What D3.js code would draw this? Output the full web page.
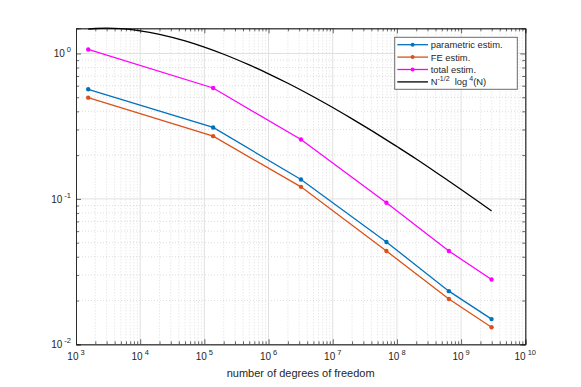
<!DOCTYPE html>
<html>
<head>
<meta charset="utf-8">
<script src="https://cdn.jsdelivr.net/npm/d3@7"></script>
<style>
  body { margin: 0; background: #fff; }
  svg { font-family: "Liberation Sans", Arial, sans-serif; }
</style>
</head>
<body>
<div id="chart"></div>
<script>
// degrees of freedom (x) for the refinement levels
const dofs = [1.55e3, 1.37e5, 3.2e6, 6.86e7, 6.45e8, 2.98e9];
const parametric = [0.567, 0.31, 0.136, 0.0505, 0.0232, 0.0149];
const feEstim = [0.497, 0.27, 0.121, 0.0438, 0.0205, 0.0131];
const totalEstim = [1.066, 0.579, 0.256, 0.094, 0.0438, 0.0279];

// reference curve
const refN = [1.55e3, 2e3, 3e3, 5e3, 1e4, 2e4, 5e4, 1e5, 2e5, 5e5, 1e6, 2e6, 5e6,
  1e7, 2e7, 5e7, 1e8, 2e8, 5e8, 1e9, 2e9, 2.98e9];
const refVal = [1.472, 1.485, 1.493, 1.481, 1.432, 1.354, 1.220, 1.106, 0.988, 0.834,
  0.725, 0.624, 0.504, 0.425, 0.355, 0.278, 0.229, 0.188, 0.143, 0.116, 0.0936, 0.0826];

const xTickExp = [3, 4, 5, 6, 7, 8, 9, 10];
const yTickExp = [-2, -1, 0];

const width = 581;
const height = 387;
const margin = { top: 28.3, right: 55.7, bottom: 42.7, left: 76 };

const svg = d3.select('#chart').append('svg')
  .attr('width', width)
  .attr('height', height);

const x = d3.scaleLog()
  .domain([1e3, 1e10])
  .range([margin.left, width - margin.right]);
const y = d3.scaleLog()
  .domain([0.01, 1.49])
  .range([height - margin.bottom, margin.top]);

const x0 = margin.left, x1 = width - margin.right;
const y0 = height - margin.bottom, y1 = margin.top;

// minor tick values
const xMinor = [];
for (let e = 3; e < 10; e++) for (let m = 2; m <= 9; m++) xMinor.push(m * Math.pow(10, e));
const yMinor = [];
for (let e = -2; e <= 0; e++) for (let m = 2; m <= 9; m++) {
  const v = m * Math.pow(10, e);
  if (v <= 1.49) yMinor.push(v);
}

// grid
const grid = svg.append('g');
grid.selectAll('.xminor').data(xMinor).enter().append('line')
  .attr('x1', d => x(d)).attr('x2', d => x(d)).attr('y1', y0).attr('y2', y1)
  .attr('stroke', '#c8c8c8').attr('stroke-width', 0.6).attr('stroke-dasharray', '1,2');
grid.selectAll('.yminor').data(yMinor).enter().append('line')
  .attr('y1', d => y(d)).attr('y2', d => y(d)).attr('x1', x0).attr('x2', x1)
  .attr('stroke', '#c8c8c8').attr('stroke-width', 0.6).attr('stroke-dasharray', '1,2');
grid.selectAll('.xmajor').data(xTickExp.slice(1, -1)).enter().append('line')
  .attr('x1', d => x(Math.pow(10, d))).attr('x2', d => x(Math.pow(10, d)))
  .attr('y1', y0).attr('y2', y1)
  .attr('stroke', '#e0e0e0').attr('stroke-width', 1);
grid.selectAll('.ymajor').data([-1, 0]).enter().append('line')
  .attr('y1', d => y(Math.pow(10, d))).attr('y2', d => y(Math.pow(10, d)))
  .attr('x1', x0).attr('x2', x1)
  .attr('stroke', '#e0e0e0').attr('stroke-width', 1);

// axes with inward ticks on all four sides
const axisColor = '#262626';
function tickSet(axisFn, scale, vals, size) {
  return axisFn(scale).tickValues(vals).tickSize(size).tickFormat('');
}
const axes = [
  [d3.axisBottom, x, `translate(0,${y0})`],
  [d3.axisTop, x, `translate(0,${y1})`],
  [d3.axisLeft, y, `translate(${x0},0)`],
  [d3.axisRight, y, `translate(${x1},0)`],
];
axes.forEach(([fn, sc, tr]) => {
  const isX = sc === x;
  const major = isX ? xTickExp.map(e => Math.pow(10, e)) : yTickExp.map(e => Math.pow(10, e));
  const minor = isX ? xMinor : yMinor;
  const gMin = svg.append('g').attr('transform', tr).call(tickSet(fn, sc, minor, -3));
  const gMaj = svg.append('g').attr('transform', tr).call(tickSet(fn, sc, major, -5));
  [gMin, gMaj].forEach(g => {
    g.selectAll('line').attr('stroke', axisColor).attr('stroke-width', 0.7);
    g.select('.domain').attr('stroke', axisColor).attr('stroke-width', 0.8);
  });
});

// tick labels with exponents
const lab = svg.append('g').attr('fill', axisColor).style('font-size', '10px');
xTickExp.forEach(e => {
  const t = lab.append('text')
    .attr('x', x(Math.pow(10, e)))
    .attr('y', y0 + 16)
    .attr('text-anchor', 'middle');
  t.append('tspan').text('10');
  t.append('tspan').attr('dy', -5).attr('dx', 2).style('font-size', '7.5px').text(e);
});
yTickExp.forEach(e => {
  const t = lab.append('text')
    .attr('x', x0 - 5)
    .attr('y', y(Math.pow(10, e)) + 4)
    .attr('text-anchor', 'end');
  t.append('tspan').text('10');
  t.append('tspan').attr('dy', -5).attr('dx', 2).style('font-size', '7.5px').text(e);
});

svg.append('text')
  .attr('x', (x0 + x1) / 2)
  .attr('y', 377)
  .attr('text-anchor', 'middle')
  .attr('fill', axisColor)
  .style('font-size', '11px')
  .text('number of degrees of freedom');

// series
const series = [
  { name: 'parametric estim.', vals: parametric, color: '#0072BD' },
  { name: 'FE estim.', vals: feEstim, color: '#D95319' },
  { name: 'total estim.', vals: totalEstim, color: '#FF00FF' },
];
const line = d3.line().x(d => x(d[0])).y(d => y(d[1]));

svg.append('path')
  .datum(refN.map((n, i) => [n, refVal[i]]))
  .attr('d', line.curve(d3.curveMonotoneX))
  .attr('fill', 'none')
  .attr('stroke', '#000')
  .attr('stroke-width', 1.3);
line.curve(d3.curveLinear);

series.forEach(s => {
  const pts = dofs.map((n, i) => [n, s.vals[i]]);
  svg.append('path')
    .datum(pts)
    .attr('d', line)
    .attr('fill', 'none')
    .attr('stroke', s.color)
    .attr('stroke-width', 1.3);
  svg.selectAll(null).data(pts).enter().append('circle')
    .attr('cx', d => x(d[0]))
    .attr('cy', d => y(d[1]))
    .attr('r', 2.2)
    .attr('fill', s.color);
});

// legend
const leg = svg.append('g');
leg.append('rect')
  .attr('x', 394.7).attr('y', 37.3)
  .attr('width', 122.6).attr('height', 52)
  .attr('fill', '#fff')
  .attr('stroke', '#6b6b6b')
  .attr('stroke-width', 1);
const legItems = series.concat([{ name: 'ref', color: '#000', noMarker: true }]);
legItems.forEach((s, i) => {
  const ly = 44.7 + i * 12.4;
  leg.append('line')
    .attr('x1', 397.3).attr('x2', 428)
    .attr('y1', ly).attr('y2', ly)
    .attr('stroke', s.color).attr('stroke-width', 1.3);
  if (!s.noMarker) {
    leg.append('circle')
      .attr('cx', 412.6).attr('cy', ly)
      .attr('r', 2)
      .attr('fill', s.color);
  }
  const t = leg.append('text')
    .attr('x', 430.7)
    .attr('y', ly + 3.5)
    .attr('fill', axisColor)
    .style('font-size', '9.4px');
  if (s.noMarker) {
    t.append('tspan').text('N');
    t.append('tspan').attr('dy', -4).style('font-size', '7px').text('-1/2');
    t.append('tspan').attr('dy', 4).text('\u00a0 log');
    t.append('tspan').attr('dy', -4).attr('dx', 2).style('font-size', '7px').text('4');
    t.append('tspan').attr('dy', 4).text('(N)');
  } else {
    t.text(s.name);
  }
});
</script>
</body>
</html>
